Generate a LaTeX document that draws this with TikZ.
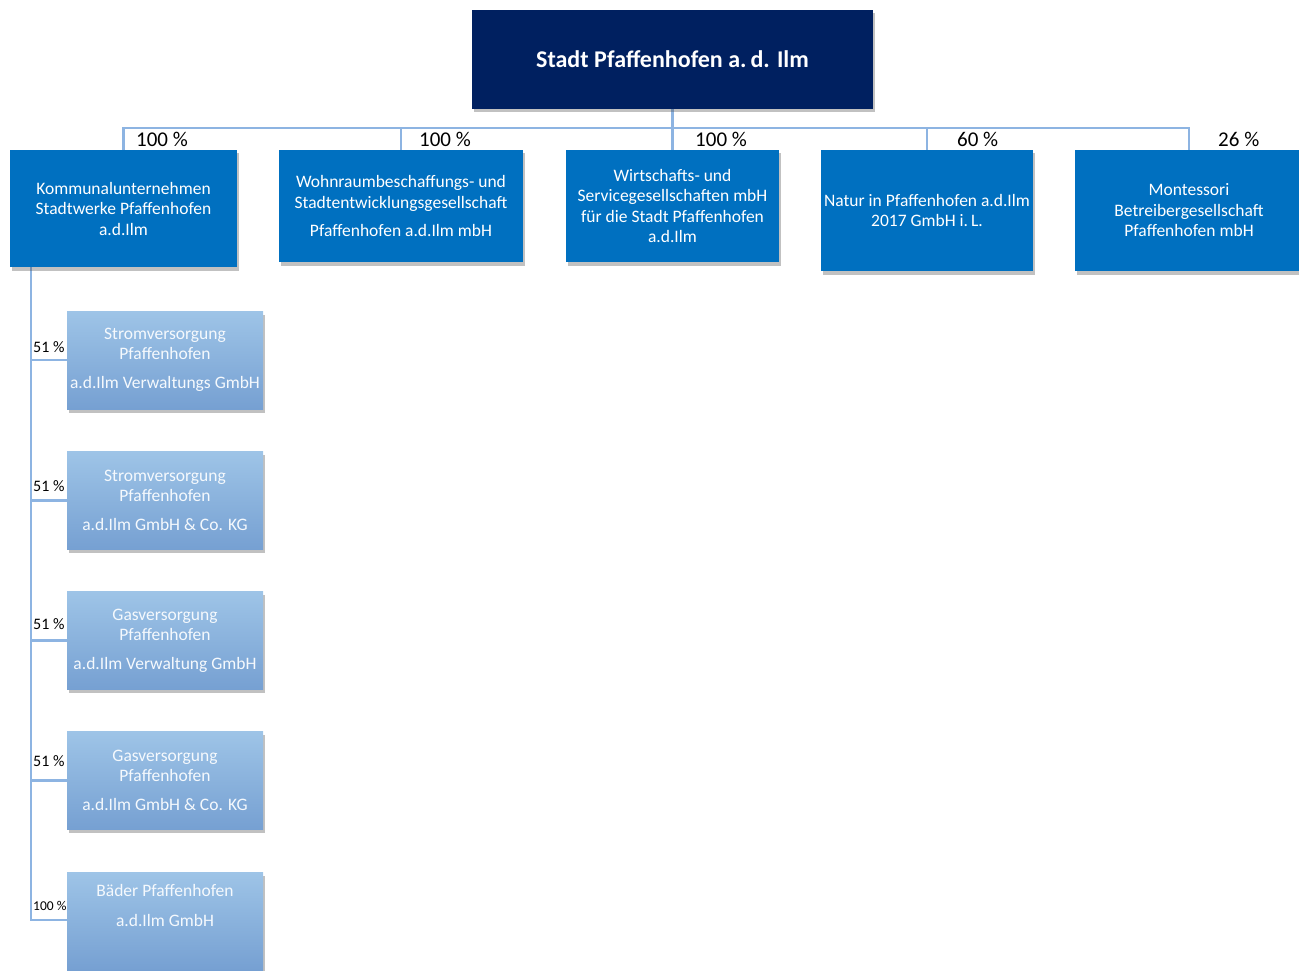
\documentclass[tikz,border=0pt]{standalone}
\usepackage{fontspec}
\setmainfont{Carlito}
\usetikzlibrary{shadows}
\definecolor{navy}{RGB}{0,32,96}
\definecolor{midblue}{RGB}{0,112,192}
\definecolor{lineblue}{RGB}{141,180,226}
\definecolor{ctop}{RGB}{158,196,231}
\definecolor{cbot}{RGB}{118,160,210}
\definecolor{ctext}{RGB}{245,249,253}
\begin{document}
\begin{tikzpicture}[x=1pt,y=-1pt,
  shad/.style={drop shadow={shadow xshift=1.5pt,shadow yshift=-3.5pt,opacity=0.35,fill=black!70}},
  topbox/.style={shad,fill=navy,text=white,font=\fontsize{24}{28}\selectfont\bfseries,
    minimum width=401pt,minimum height=99pt,inner sep=0pt},
  midbox/.style={shad,fill=midblue,text=white,font=\fontsize{17.5}{20.5}\selectfont,
    align=center,inner sep=0pt},
  childbox/.style={shad,top color=ctop,bottom color=cbot,text=ctext,
    font=\fontsize{17.5}{20}\selectfont,align=center,inner sep=0pt,
    minimum width=196pt,minimum height=98pt},
  conn/.style={draw=lineblue,line width=2.5pt},
  pct/.style={font=\fontsize{21}{24}\selectfont,inner sep=0pt,anchor=west},
  spct/.style={font=\fontsize{16}{18}\selectfont,inner sep=0pt,anchor=west},
  sspct/.style={font=\fontsize{13.5}{15}\selectfont,inner sep=0pt,anchor=west}]
\useasboundingbox (0,0) rectangle (1299,971);

% connectors first
\coordinate (bus) at (672.5,128);
\coordinate (v) at (31,267);
\coordinate (kt) at (123.5,150);
\coordinate (wt) at (401,150);
\coordinate (wit) at (672.5,150);
\coordinate (nt) at (927,150);
\coordinate (mt) at (1189,150);
\draw[conn] (672.5,109) -- (bus);
\draw[conn] (kt) |- (bus) -| (mt);
\draw[conn] (wt) -- (wt |- bus);
\draw[conn] (wit) -- (bus);
\draw[conn] (nt) -- (nt |- bus);
\draw[conn] (v) |- (67,920);
\foreach \yy in {360,500.5,640.5,780.5}
  \draw[conn] (31,\yy) -- (67,\yy);

% top
\node[topbox] (top) at (672.5,59.5) {Stadt Pfaffenhofen a.\,d. Ilm};

% second row
\node[midbox,minimum width=227pt,minimum height=117pt] (k) at (123.5,208.5)
  {Kommunalunternehmen\\Stadtwerke Pfaffenhofen\\a.d.Ilm};
\node[midbox,minimum width=244pt,minimum height=112pt] (w) at (401,206)
  {Wohnraumbeschaffungs- und\\Stadtentwicklungsgesellschaft\\[8pt]Pfaffenhofen a.d.Ilm mbH};
\node[midbox,minimum width=213pt,minimum height=112pt] (wi) at (672.5,206)
  {Wirtschafts- und\\Servicegesellschaften mbH\\für die Stadt Pfaffenhofen\\a.d.Ilm};
\node[midbox,minimum width=212pt,minimum height=121pt] (n) at (927,210.5)
  {Natur in Pfaffenhofen a.d.Ilm\\2017 GmbH i.\,L.};
\node[midbox,minimum width=228pt,minimum height=121pt] (m) at (1189,210.5)
  {Montessori\\Betreibergesellschaft\\Pfaffenhofen mbH};

% children
\node[childbox] (c1) at (165,360)
  {Stromversorgung\\Pfaffenhofen\\[9pt]a.d.Ilm Verwaltungs GmbH};
\node[childbox] (c2) at (165,500.5)
  {Stromversorgung\\Pfaffenhofen\\[9pt]a.d.Ilm GmbH \& Co. KG};
\node[childbox] (c3) at (165,640.5)
  {Gasversorgung\\Pfaffenhofen\\[9pt]a.d.Ilm Verwaltung GmbH};
\node[childbox] (c4) at (165,780.5)
  {Gasversorgung\\Pfaffenhofen\\[9pt]a.d.Ilm GmbH \& Co. KG};
\node[childbox] (c5) at (165,921)
  {Bäder Pfaffenhofen\\[10pt]a.d.Ilm GmbH\\[6pt]\strut};

% percentages
\node[pct] (p1) at (136,139) {100 \%};
\node[pct] (p2) at (419,139) {100 \%};
\node[pct] (p3) at (695,139) {100 \%};
\node[pct] (p4) at (957,139) {60 \%};
\node[pct] (p5) at (1218,139) {26 \%};
\node[spct] (q1) at (33,347) {51 \%};
\node[spct] (q2) at (33,486) {51 \%};
\node[spct] (q3) at (33,624) {51 \%};
\node[spct] (q4) at (33,761) {51 \%};
\node[sspct] (q5) at (33,906) {100 \%};
\end{tikzpicture}
\end{document}
